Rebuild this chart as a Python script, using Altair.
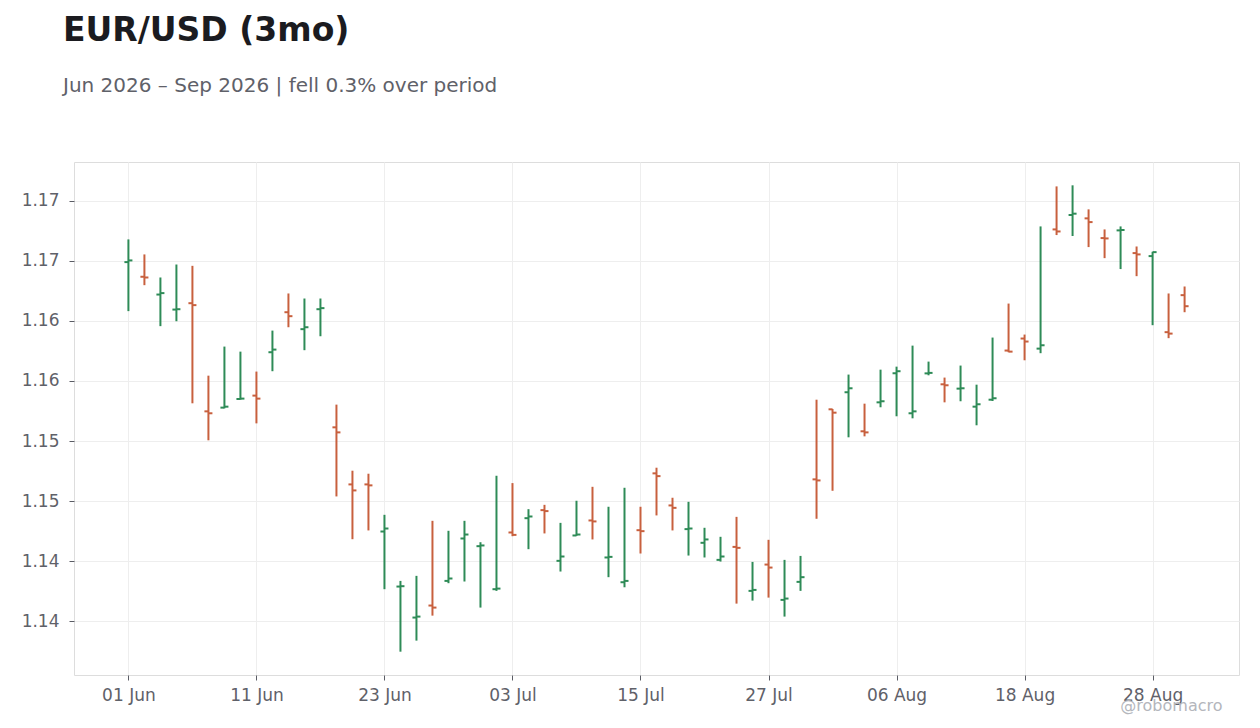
import altair as alt
import pandas as pd

# daily EUR/USD bars, business days 01 Jun - 01 Sep 2026
dates = pd.bdate_range("2026-06-01", "2026-09-01")

opens = [
    1.16989, 1.16867, 1.16719, 1.16594, 1.16647, 1.15747, 1.15778, 1.15850, 1.15878, 1.16239,
    1.16572, 1.16431, 1.16597, 1.15614, 1.15139, 1.15139, 1.14747, 1.14289, 1.14031, 1.14131,
    1.14336, 1.14689, 1.14625, 1.14267, 1.14739, 1.14858, 1.14925, 1.14503, 1.14714, 1.14839,
    1.14531, 1.14325, 1.14758, 1.15231, 1.14964, 1.14767, 1.14653, 1.14511, 1.14619, 1.14253,
    1.14472, 1.14178, 1.14328, 1.15181, 1.15764, 1.15906, 1.15581, 1.15822, 1.16064, 1.15731,
    1.16063, 1.15972, 1.15936, 1.15786, 1.15844, 1.16253, 1.16353, 1.16269, 1.17261, 1.17381,
    1.17353, 1.17189, 1.17253, 1.17064, 1.17039, 1.16406, 1.16714,
]
highs = [
    1.17178, 1.17053, 1.16861, 1.16969, 1.16958, 1.16044, 1.16286, 1.16244, 1.16078, 1.16419,
    1.16728, 1.16686, 1.16686, 1.15803, 1.15253, 1.15228, 1.14886, 1.14336, 1.14378, 1.14836,
    1.14753, 1.14836, 1.14658, 1.15211, 1.15150, 1.14933, 1.14969, 1.14819, 1.15003, 1.15119,
    1.14953, 1.15111, 1.14953, 1.15278, 1.15028, 1.14994, 1.14778, 1.14703, 1.14869, 1.14494,
    1.14678, 1.14511, 1.14544, 1.15844, 1.15767, 1.16053, 1.15811, 1.16094, 1.16119, 1.16294,
    1.16161, 1.16028, 1.16128, 1.15969, 1.16361, 1.16644, 1.16386, 1.17286, 1.17619, 1.17628,
    1.17428, 1.17261, 1.17286, 1.17119, 1.17075, 1.16728, 1.16786,
]
lows = [
    1.16581, 1.16797, 1.16456, 1.16497, 1.15814, 1.15506, 1.15772, 1.15844, 1.15647, 1.16081,
    1.16447, 1.16256, 1.16372, 1.15039, 1.14683, 1.14756, 1.14267, 1.13747, 1.13839, 1.14047,
    1.14317, 1.14331, 1.14114, 1.14253, 1.14708, 1.14600, 1.14731, 1.14414, 1.14711, 1.14681,
    1.14367, 1.14283, 1.14564, 1.14881, 1.14756, 1.14547, 1.14531, 1.14497, 1.14147, 1.14172,
    1.14197, 1.14039, 1.14253, 1.14853, 1.15086, 1.15531, 1.15539, 1.15781, 1.15706, 1.15689,
    1.16047, 1.15822, 1.15831, 1.15631, 1.15833, 1.16239, 1.16172, 1.16231, 1.17214, 1.17206,
    1.17114, 1.17022, 1.16931, 1.16872, 1.16464, 1.16356, 1.16572,
]
closes = [
    1.17003, 1.16861, 1.16731, 1.16597, 1.16631, 1.15731, 1.15786, 1.15853, 1.15853, 1.16261,
    1.16539, 1.16447, 1.16606, 1.15572, 1.15089, 1.15131, 1.14772, 1.14292, 1.14039, 1.14114,
    1.14356, 1.14722, 1.14631, 1.14272, 1.14719, 1.14872, 1.14917, 1.14539, 1.14722, 1.14831,
    1.14536, 1.14336, 1.14750, 1.15208, 1.14944, 1.14772, 1.14681, 1.14539, 1.14611, 1.14261,
    1.14447, 1.14189, 1.14367, 1.15172, 1.15736, 1.15939, 1.15572, 1.15831, 1.16081, 1.15747,
    1.16067, 1.15964, 1.15939, 1.15806, 1.15856, 1.16244, 1.16328, 1.16297, 1.17244, 1.17392,
    1.17322, 1.17186, 1.17256, 1.17053, 1.17072, 1.16394, 1.16622,
]

# label every 8th trading day
tick_every = 8
y_ticks = [1.14, 1.145, 1.15, 1.155, 1.16, 1.165, 1.17, 1.175]

UP = "#2e8b57"
DOWN = "#c8603e"
GREY = "#5f6169"

labels = list(dates.strftime("%d %b"))
df = pd.DataFrame(
    {
        "i": range(len(labels)),
        "day": labels,
        "open": opens,
        "high": highs,
        "low": lows,
        "close": closes,
    }
)

tick_idx = list(range(0, len(labels), tick_every))
label_expr = "[" + ",".join(f"'{d}'" for d in labels) + "][datum.value]"

lo, hi = min(lows), max(highs)
pad = (hi - lo) * 0.05

x = alt.X(
    "i:Q",
    scale=alt.Scale(domain=[-3.4, len(labels) - 1 + 3.4], nice=False, zero=False),
    axis=alt.Axis(
        values=tick_idx,
        labelExpr=label_expr,
        labelAngle=0,
        title="@robomacro",
        titleX=1148,
        titleY=35,
        titleAlign="right",
        titleBaseline="alphabetic",
        titleColor="#b4b6bc",
        titleFontSize=16,
        titleFontWeight="normal",
    ),
)
y_scale = alt.Scale(domain=[lo - pad, hi + pad], nice=False, zero=False)
color = alt.Color(
    "dir:N",
    scale=alt.Scale(domain=["up", "down"], range=[UP, DOWN]),
    legend=None,
)

base = alt.Chart(df).transform_calculate(
    dir="datum.close >= datum.open ? 'up' : 'down'"
)

wicks = base.mark_rule(strokeWidth=2).encode(
    x=x,
    y=alt.Y(
        "low:Q",
        scale=y_scale,
        axis=alt.Axis(
            values=y_ticks,
            title=None,
            labelPadding=10,
            labelExpr="format(floor(datum.value * 100 + 0.0001) / 100, '.2f')",
        ),
    ),
    y2="high:Q",
    color=color,
)
open_ticks = base.mark_rule(strokeWidth=2, xOffset=-4).encode(
    x=x, x2="i:Q", y=alt.Y("open:Q", scale=y_scale), color=color
)
close_ticks = base.mark_rule(strokeWidth=2, x2Offset=4).encode(
    x=x, x2="i:Q", y=alt.Y("close:Q", scale=y_scale), color=color
)

chart = (
    alt.layer(wicks, open_ticks, close_ticks)
    .properties(
        width=1165,
        height=513,
        autosize=alt.AutoSizeParams(type="none"),
        padding={"left": 66, "top": 154, "right": 13, "bottom": 45},
        title=alt.TitleParams(
            "EUR/USD (3mo)",
            subtitle="Jun 2026 – Sep 2026 | fell 0.3% over period",
        ),
    )
    .configure_view(stroke="#dddddd", strokeWidth=1)
    .configure_axis(
        domain=False,
        gridColor="#eeeeee",
        tickColor="#5a5c64",
        tickSize=5,
        labelColor=GREY,
        labelFont="DejaVu Sans",
        labelFontSize=17,
        labelPadding=7,
        titleFont="DejaVu Sans",
    )
    .configure_title(
        anchor="start",
        frame="group",
        dx=-11,
        offset=66,
        font="DejaVu Sans",
        fontSize=33,
        fontWeight="bold",
        color="#1b1b20",
        subtitleFont="DejaVu Sans",
        subtitleFontSize=20,
        subtitleColor=GREY,
        subtitlePadding=28,
    )
)

chart.save("out.html", embed_options={"renderer": "svg", "actions": False})
